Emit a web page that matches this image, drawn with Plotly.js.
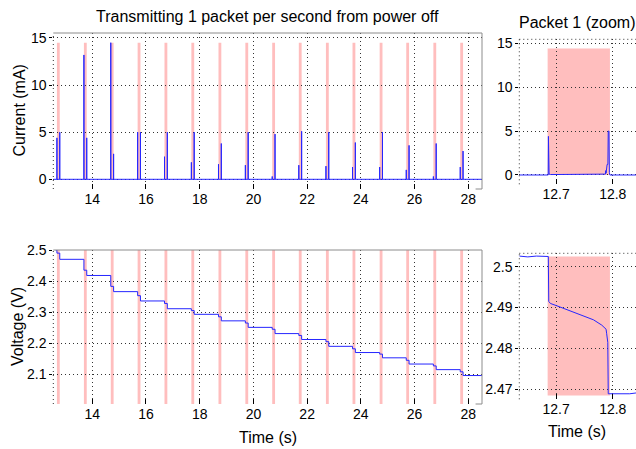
<!DOCTYPE html>
<html>
<head>
<meta charset="utf-8">
<script src="https://cdn.plot.ly/plotly-3.0.1.min.js"></script>
<style>
  html, body { margin: 0; padding: 0; background: #fff; }
  #chart { width: 636px; height: 449px; }
</style>
</head>
<body>
<div id="chart"></div>
<script>
// ---------- data ----------
// start time of each transmitted packet (s)
const packetStart = [12.685, 13.69, 14.69, 15.69, 16.69, 17.69, 18.70, 19.70, 20.70, 21.69, 22.70, 23.69, 24.70, 25.69, 26.70, 27.70];
const packetLen = 0.105;            // duration of the pink transmit window (s)
const pinkTop = 14.5;               // height of pink window in current panel (mA)
// current peaks at packet start and end (mA)
const startPeak = [4.4, 13.2, 14.5, 5.0, 2.4, 1.8, 1.6, 1.5, 0.3, 1.5, 1.4, 1.3, 1.3, 1.0, 0.3, 1.3];
const endPeak   = [5.0, 4.4, 2.7, 5.0, 5.0, 5.0, 3.8, 5.0, 4.8, 5.1, 5.0, 3.9, 5.0, 3.6, 3.8, 3.0];
// voltage: level before first packet, level during each packet, level after each packet (V)
const vInitial = 2.50;
const vDuring = [2.490, 2.435, 2.383, 2.353, 2.328, 2.305, 2.285, 2.265, 2.245, 2.225, 2.205, 2.182, 2.165, 2.145, 2.127, 2.108];
const vAfter  = [2.470, 2.418, 2.366, 2.336, 2.311, 2.293, 2.272, 2.251, 2.231, 2.212, 2.190, 2.170, 2.153, 2.133, 2.115, 2.096];
const tFirst = 12.635, tLast = 28.51;

// zoom on packet 1
const zoomCurT = [12.635, 12.6860, 12.6864, 12.6867, 12.6872, 12.6876, 12.690, 12.740, 12.787, 12.7876, 12.7882, 12.7900, 12.7914, 12.7920, 12.7933, 12.7940, 12.7948, 12.841];
const zoomCurI = [0.0,    0.0,     4.4,     1.1,     1.1,     0.1,     0.05,   0.08,   0.1,    0.5,     0.2,     1.2,     1.2,     5.0,     5.0,     0.3,     0.0,     0.0];
const zoomVT = [12.635, 12.650, 12.665, 12.680, 12.6862, 12.6870, 12.690, 12.700, 12.713, 12.742, 12.766, 12.7806, 12.7882, 12.7892, 12.7899, 12.7912, 12.7920, 12.800, 12.815, 12.830, 12.841];
const zoomV  = [2.5026, 2.5024, 2.5026, 2.5024, 2.5025, 2.4915, 2.4910, 2.4905, 2.4898, 2.4884, 2.4870, 2.4857, 2.4847, 2.4836, 2.4817, 2.4815, 2.4689, 2.4689, 2.4690, 2.4689, 2.4691];
const zoomPinkStart = 12.685, zoomPinkEnd = 12.795, zoomPinkTopI = 14.4, zoomPinkTopV = 2.5025, zoomPinkBottomV = 2.4685;

// tick labels
const xTicksMain = [14, 16, 18, 20, 22, 24, 26, 28];
const yTicksCur = [0, 5, 10, 15];
const yTicksV = [2.1, 2.2, 2.3, 2.4, 2.5];
const xTicksZoom = [12.7, 12.8];
const yTicksVZoom = [2.47, 2.48, 2.49, 2.5];

// ---------- build traces ----------
const BLUE = '#2626ff';
const PINK = 'rgb(255,190,190)';
const curX = [tFirst - 0.09], curY = [0];
packetStart.forEach((s, k) => {
  curX.push(s, s, s, s + packetLen, s + packetLen, s + packetLen);
  curY.push(0, startPeak[k], 0, 0, endPeak[k], 0);
});
curX.push(tLast); curY.push(0);

const vX = [tFirst], vY = [vInitial];
packetStart.forEach((s, k) => {
  vX.push(s, s + packetLen);
  vY.push(vDuring[k], vAfter[k]);
});
vX.push(tLast); vY.push(vAfter[vAfter.length - 1]);

const traces = [
  {x: curX, y: curY, xaxis: 'x', yaxis: 'y', mode: 'lines', line: {color: BLUE, width: 1}, hoverinfo: 'skip'},
  {x: zoomCurT, y: zoomCurI, xaxis: 'x2', yaxis: 'y2', mode: 'lines', line: {color: BLUE, width: 1}, hoverinfo: 'skip'},
  {x: vX, y: vY, xaxis: 'x3', yaxis: 'y3', mode: 'lines', line: {color: BLUE, width: 1, shape: 'hv'}, hoverinfo: 'skip'},
  {x: zoomVT, y: zoomV, xaxis: 'x4', yaxis: 'y4', mode: 'lines', line: {color: BLUE, width: 1}, hoverinfo: 'skip'}
];

// ---------- shapes ----------
const shapes = [];
packetStart.forEach(s => {
  shapes.push({type: 'rect', xref: 'x', yref: 'y', x0: s, x1: s + packetLen, y0: 0, y1: pinkTop,
               fillcolor: PINK, line: {width: 0}, layer: 'below'});
  shapes.push({type: 'rect', xref: 'x3', yref: 'y3 domain', x0: s, x1: s + packetLen, y0: 0, y1: 1,
               fillcolor: PINK, line: {width: 0}, layer: 'below'});
});
shapes.push({type: 'rect', xref: 'x2', yref: 'y2', x0: zoomPinkStart, x1: zoomPinkEnd, y0: 0, y1: zoomPinkTopI,
             fillcolor: PINK, line: {width: 0}, layer: 'below'});
shapes.push({type: 'rect', xref: 'x4', yref: 'y4', x0: zoomPinkStart, x1: zoomPinkEnd, y0: zoomPinkBottomV, y1: zoomPinkTopV,
             fillcolor: PINK, line: {width: 0}, layer: 'below'});

const DOT = '1px,3px';
const GRAY = '#8c8c8c';
// frames for the main (left) panels: gray top & right, dotted left
[['x domain', 'y domain'], ['x3 domain', 'y3 domain']].forEach(([xr, yr]) => {
  shapes.push({type: 'line', xref: xr, yref: yr, x0: 0, x1: 1, y0: 1, y1: 1, line: {color: GRAY, width: 1}, layer: 'above'});
  shapes.push({type: 'line', xref: xr, yref: yr, x0: 1, x1: 1, y0: 0, y1: 1, line: {color: GRAY, width: 1}, layer: 'above'});
  shapes.push({type: 'line', xref: xr, yref: yr, x0: 0.985, x1: 1, y0: 0, y1: 0, line: {color: GRAY, width: 1}, layer: 'above'});
  shapes.push({type: 'line', xref: xr, yref: yr, x0: 0, x1: 0, y0: 0, y1: 1, line: {color: '#333', width: 1, dash: DOT}, layer: 'above'});
});
// frames for zoom panels: dotted top & left
[['x2 domain', 'y2 domain'], ['x4 domain', 'y4 domain']].forEach(([xr, yr]) => {
  shapes.push({type: 'line', xref: xr, yref: yr, x0: 0, x1: 1, y0: 1, y1: 1, line: {color: '#333', width: 1, dash: DOT}, layer: 'above'});
  shapes.push({type: 'line', xref: xr, yref: yr, x0: 0, x1: 0, y0: 0, y1: 1, line: {color: '#333', width: 1, dash: DOT}, layer: 'above'});
});

// ---------- axes ----------
const FONT = 'Liberation Sans, Arial, Helvetica, sans-serif';
const tickFont = {family: FONT, size: 14, color: '#000'};
function xax(domain, range, ticks, anchor) {
  return {domain, range, anchor, tickvals: ticks, ticktext: ticks.map(String),
          showgrid: true, gridcolor: '#333', griddash: DOT, gridwidth: 1,
          zeroline: false, showline: false, ticks: 'inside', ticklen: 5, tickcolor: '#000',
          tickfont: tickFont, fixedrange: true};
}
function yax(domain, range, ticks, anchor) {
  return {domain, range, anchor, tickvals: ticks, ticktext: ticks.map(String),
          showgrid: true, gridcolor: '#333', griddash: DOT, gridwidth: 1,
          zeroline: false, showline: false, ticks: 'outside', ticklen: 3, tickcolor: '#000',
          tickfont: tickFont, fixedrange: true};
}
// right-side inward tick marks on the gray frame of the main panels
function yRight(over, range, ticks, anchor) {
  return {overlaying: over, side: 'right', anchor, range, tickvals: ticks, showticklabels: false,
          showgrid: false, zeroline: false, showline: false, ticks: 'inside', ticklen: 4,
          tickcolor: GRAY, fixedrange: true};
}
const W = 636, H = 449;
const dxL = [53.3 / W, 482 / W], dxR = [519.3 / W, 1];
const dyTL = [1 - 189 / H, 1 - 33 / H], dyBL = [1 - 404 / H, 1 - 250 / H];
const dyTR = [1 - 184.3 / H, 1 - 39.3 / H], dyBR = [1 - 399.3 / H, 1 - 253.3 / H];
const rangeCur = [-1.03, 15.53], rangeV = [2.0044, 2.5];

const layout = {
  width: W, height: H,
  margin: {l: 0, r: 0, t: 0, b: 0},
  paper_bgcolor: '#fff', plot_bgcolor: '#fff',
  showlegend: false,
  font: {family: FONT, size: 14, color: '#000'},
  xaxis:  xax(dxL, [12.55, 28.51], xTicksMain, 'y'),
  yaxis:  yax(dyTL, rangeCur, yTicksCur, 'x'),
  xaxis2: xax(dxR, [12.635, 12.841], xTicksZoom, 'y2'),
  yaxis2: yax(dyTR, [-1.06, 15.45], yTicksCur, 'x2'),
  xaxis3: xax(dxL, [12.55, 28.51], xTicksMain, 'y3'),
  yaxis3: yax(dyBL, rangeV, yTicksV, 'x3'),
  xaxis4: xax(dxR, [12.635, 12.841], xTicksZoom, 'y4'),
  yaxis4: yax(dyBR, [2.46755, 2.50328], yTicksVZoom, 'x4'),
  yaxis5: yRight('y', rangeCur, yTicksCur, 'x'),
  yaxis6: yRight('y3', rangeV, yTicksV, 'x3'),
  shapes,
  annotations: [
    {text: 'Transmitting 1 packet per second from power off', xref: 'paper', yref: 'paper',
     x: 267.7 / W, y: 1 - 17 / H, xanchor: 'center', yanchor: 'middle', showarrow: false, font: {family: FONT, size: 16}},
    {text: 'Packet 1 (zoom)', xref: 'paper', yref: 'paper',
     x: 577 / W, y: 1 - 22 / H, xanchor: 'center', yanchor: 'middle', showarrow: false, font: {family: FONT, size: 16}},
    {text: 'Current (mA)', xref: 'paper', yref: 'paper', textangle: -90,
     x: 18.5 / W, y: 1 - 111 / H, xanchor: 'center', yanchor: 'middle', showarrow: false, font: {family: FONT, size: 16}},
    {text: 'Voltage (V)', xref: 'paper', yref: 'paper', textangle: -90,
     x: 17 / W, y: 1 - 327 / H, xanchor: 'center', yanchor: 'middle', showarrow: false, font: {family: FONT, size: 16}},
    {text: 'Time (s)', xref: 'paper', yref: 'paper',
     x: 267.7 / W, y: 1 - 437 / H, xanchor: 'center', yanchor: 'middle', showarrow: false, font: {family: FONT, size: 16}},
    {text: 'Time (s)', xref: 'paper', yref: 'paper',
     x: 577 / W, y: 1 - 431 / H, xanchor: 'center', yanchor: 'middle', showarrow: false, font: {family: FONT, size: 16}}
  ]
};

Plotly.newPlot('chart', traces, layout, {staticPlot: true, displayModeBar: false});
</script>
</body>
</html>
